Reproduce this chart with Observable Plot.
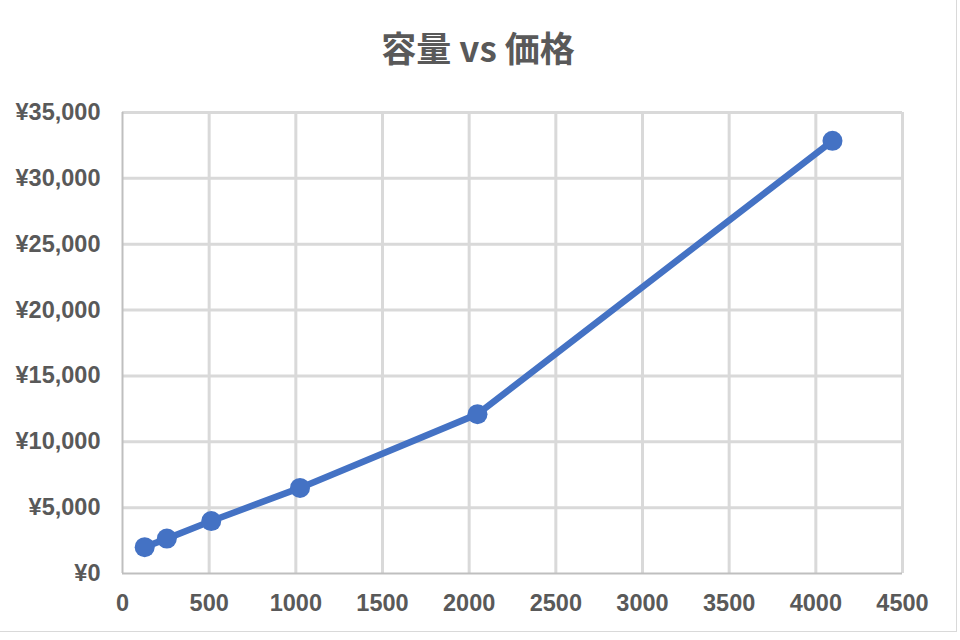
<!DOCTYPE html>
<html>
<head>
<meta charset="utf-8">
<script src="https://cdn.jsdelivr.net/npm/d3@7"></script>
<script src="https://cdn.jsdelivr.net/npm/@observablehq/plot@0.6"></script>
<style>
  body { margin: 0; background: #fff; }
  #wrap { position: relative; width: 956px; height: 631px; border-right: 1px solid #d9d9d9; border-bottom: 1px solid #d9d9d9; background: #fff; }
  #title { height: 94px; line-height: 94px; text-align: center; font-family: "Noto Sans CJK JP", "Liberation Sans", sans-serif; font-weight: bold; font-size: 35px; color: #595959; }
  svg { display: block; }
</style>
</head>
<body>
<div id="wrap">
  <div id="title">容量 vs 価格</div>
  <div id="chart"></div>
</div>
<script>
const capacity = [128, 256, 512, 1024, 2048, 4096];
const price = [2000, 2650, 3980, 6500, 12100, 32850];
const xTicks = [0, 500, 1000, 1500, 2000, 2500, 3000, 3500, 4000, 4500];
const yTicks = [0, 5000, 10000, 15000, 20000, 25000, 30000, 35000];
const chartTitle = "容量 vs 価格";

const data = capacity.map((c, i) => ({capacity: c, price: price[i]}));
const fmtY = d => "¥" + d3.format(",")(d);
const fmtX = d => String(d);

const plot = Plot.plot({
  width: 956,
  height: 537,
  marginTop: 18,
  marginBottom: 58,
  marginLeft: 122,
  marginRight: 54,
  style: { fontFamily: "'Liberation Sans', Arial, sans-serif", fontSize: "23.5px", fontWeight: "bold", color: "#595959", background: "#fff", overflow: "visible" },
  x: { domain: [0, 4500], ticks: xTicks, label: null, tickFormat: fmtX },
  y: { domain: [0, 35000], ticks: yTicks, label: null, tickFormat: fmtY },
  marks: [
    Plot.ruleX(xTicks.filter(d => d > 0), { stroke: "#d9d9d9", strokeWidth: 3 }),
    Plot.ruleY(yTicks.filter(d => d > 0), { stroke: "#d9d9d9", strokeWidth: 3 }),
    Plot.ruleX([0], { stroke: "#bfbfbf", strokeWidth: 2 }),
    Plot.ruleY([0], { stroke: "#bfbfbf", strokeWidth: 2 }),
    Plot.axisX({ ticks: xTicks, tickSize: 0, tickPadding: 21, tickFormat: fmtX, fill: "#595959", label: null }),
    Plot.axisY({ ticks: yTicks, tickSize: 0, tickPadding: 22, tickFormat: fmtY, fill: "#595959", label: null }),
    Plot.line(data, { x: "capacity", y: "price", stroke: "#4472C4", strokeWidth: 6.5, strokeLinejoin: "round" }),
    Plot.dot(data, { x: "capacity", y: "price", r: 10, fill: "#4472C4", stroke: "none" })
  ]
});
document.getElementById("chart").appendChild(plot);
</script>
</body>
</html>
